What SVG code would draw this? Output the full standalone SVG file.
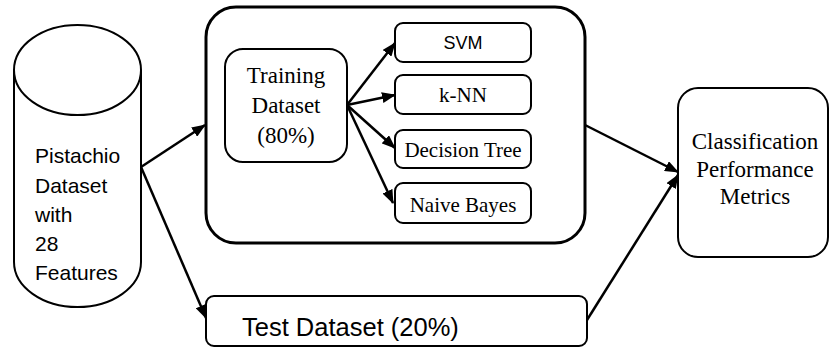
<svg xmlns="http://www.w3.org/2000/svg" width="830" height="348" viewBox="0 0 830 348">
<style>
.box{fill:#fff;stroke:#000;stroke-width:2}
.thick{fill:#fff;stroke:#000;stroke-width:3}
.sans{font-family:"Liberation Sans",Arial,sans-serif;fill:#000}
.serif{font-family:"Liberation Serif","Times New Roman",serif;fill:#000}
.edge{fill:none;stroke:#000;stroke-width:2.5}
</style>
<defs>
<marker id="ah" viewBox="0 0 14 11" refX="13" refY="5.5" markerWidth="14" markerHeight="11" markerUnits="userSpaceOnUse" orient="auto">
<path d="M0,0 L14,5.5 L0,11 Z" fill="#000"/>
</marker>
</defs>
<rect width="830" height="348" fill="#fff"/>
<g id="pistachio">
<path d="M14,70 L14,262 A63.5,45 0 0 0 141,262 L141,70" fill="#fff" stroke="#000" stroke-width="2"/>
<ellipse cx="77.5" cy="70" rx="63.5" ry="45" fill="#fff" stroke="#000" stroke-width="2"/>
<text class="sans" font-size="21" x="35"><tspan x="35" y="163">Pistachio</tspan><tspan x="35" y="193">Dataset</tspan><tspan x="35" y="222">with</tspan><tspan x="35" y="251">28</tspan><tspan x="35" y="280">Features</tspan></text>
</g>
<g id="training-group">
<rect class="thick" x="206" y="7" width="379" height="236" rx="30"/>
</g>
<g id="training">
<rect class="box" x="225" y="49" width="122" height="113" rx="18"/>
<text class="serif" font-size="23" text-anchor="middle"><tspan x="286" y="83">Training</tspan><tspan x="286" y="113">Dataset</tspan><tspan x="286" y="143">(80%)</tspan></text>
</g>
<g id="svm">
<rect class="box" x="395" y="23" width="136" height="39" rx="8"/>
<text class="sans" font-size="18" x="463" y="49" text-anchor="middle">SVM</text>
</g>
<g id="knn">
<rect class="box" x="395" y="75" width="136" height="39" rx="8"/>
<text class="serif" font-size="21" x="463" y="102" text-anchor="middle">k-NN</text>
</g>
<g id="dtree">
<rect class="box" x="395" y="130" width="136" height="38" rx="8"/>
<text class="serif" font-size="21" x="463" y="157" text-anchor="middle">Decision Tree</text>
</g>
<g id="nbayes">
<rect class="box" x="395" y="183" width="136" height="40" rx="8"/>
<text class="serif" font-size="21" x="463" y="212" text-anchor="middle">Naive Bayes</text>
</g>
<g id="metrics">
<rect class="box" x="678" y="88" width="150" height="169" rx="20"/>
<text class="serif" font-size="23" text-anchor="middle"><tspan x="755" y="149">Classification</tspan><tspan x="755" y="177">Performance</tspan><tspan x="755" y="204">Metrics</tspan></text>
</g>
<g id="test">
<rect class="box" x="206" y="296" width="381" height="50" rx="8"/>
<text class="sans" font-size="25.5" x="242" y="336">Test Dataset (20%)</text>
</g>
<g id="connectors">
<line class="edge" x1="141" y1="167" x2="205" y2="125" marker-end="url(#ah)"/>
<line class="edge" x1="141" y1="167" x2="206" y2="318" marker-end="url(#ah)"/>
<line class="edge" x1="347" y1="105" x2="395" y2="43" marker-end="url(#ah)"/>
<line class="edge" x1="347" y1="105" x2="395" y2="95" marker-end="url(#ah)"/>
<line class="edge" x1="347" y1="105" x2="395" y2="148" marker-end="url(#ah)"/>
<line class="edge" x1="347" y1="105" x2="393" y2="203" marker-end="url(#ah)"/>
<line class="edge" x1="585" y1="125" x2="678" y2="172" marker-end="url(#ah)"/>
<line class="edge" x1="587" y1="320" x2="678" y2="175" marker-end="url(#ah)"/>
</g>
</svg>
